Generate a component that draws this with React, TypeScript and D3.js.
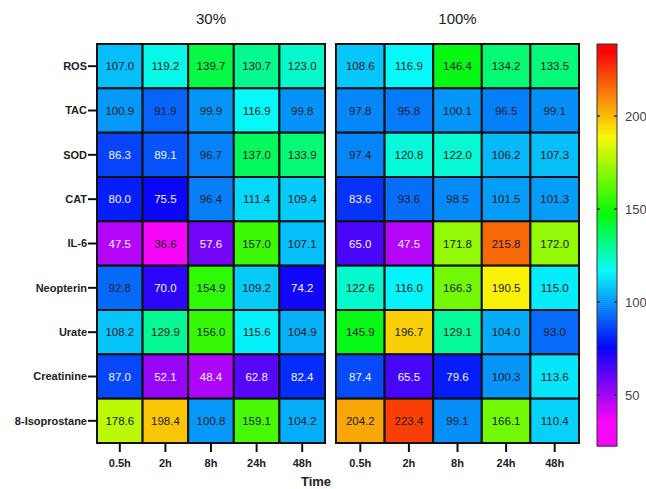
import React from "react";
import * as d3 from "d3";

const rows = ["ROS", "TAC", "SOD", "CAT", "IL-6", "Neopterin", "Urate", "Creatinine", "8-Isoprostane"];
const times = ["0.5h", "2h", "8h", "24h", "48h"];
const panelTitles = ["30%", "100%"];

const values30: number[][] = [
  [107.0, 119.2, 139.7, 130.7, 123.0],
  [100.9, 91.9, 99.9, 116.9, 99.8],
  [86.3, 89.1, 96.7, 137.0, 133.9],
  [80.0, 75.5, 96.4, 111.4, 109.4],
  [47.5, 36.6, 57.6, 157.0, 107.1],
  [92.8, 70.0, 154.9, 109.2, 74.2],
  [108.2, 129.9, 156.0, 115.6, 104.9],
  [87.0, 52.1, 48.4, 62.8, 82.4],
  [178.6, 198.4, 100.8, 159.1, 104.2],
];

const values100: number[][] = [
  [108.6, 116.9, 146.4, 134.2, 133.5],
  [97.8, 95.8, 100.1, 96.5, 99.1],
  [97.4, 120.8, 122.0, 106.2, 107.3],
  [83.6, 93.6, 98.5, 101.5, 101.3],
  [65.0, 47.5, 171.8, 215.8, 172.0],
  [122.6, 116.0, 166.3, 190.5, 115.0],
  [145.9, 196.7, 129.1, 104.0, 93.0],
  [87.4, 65.5, 79.6, 100.3, 113.6],
  [204.2, 223.4, 99.1, 166.1, 110.4],
];

const colorTicks = [50, 100, 150, 200];
const hueStops = [36, 76, 117, 148, 189, 234];
const hueValues = [300, 240, 180, 120, 60, 0];

const hueScale = d3.scaleLinear<number>().domain(hueStops).range(hueValues).clamp(true);
const color = (v: number) => d3.hsl(hueScale(v), 0.95, 0.5).toString();

const FONT = "'Liberation Sans', Arial, Helvetica, sans-serif";

export default function App() {
  const y = d3.scaleBand<string>().domain(rows).range([44, 443]);
  const panels = [
    { title: panelTitles[0], data: values30, x: d3.scaleBand<string>().domain(times).range([97, 325]) },
    { title: panelTitles[1], data: values100, x: d3.scaleBand<string>().domain(times).range([336, 579]) },
  ];
  const cb = d3.scaleLinear().domain([50, 200]).range([395, 116]);
  const cbTop = 44;
  const cbBot = 446;
  const cbX = 597;
  const cbW = 20;
  const vTop = cb.invert(cbTop);
  const vBot = cb.invert(cbBot);
  const nSteps = 200;
  const steps = d3.range(nSteps).map((i) => vBot + ((vTop - vBot) * (i + 0.5)) / nSteps);
  const stepH = (cbBot - cbTop) / nSteps;

  return (
    <svg width={646} height={489} style={{ position: "absolute", left: 0, top: 0, background: "#fff" }} fontFamily={FONT}>
      {panels.map((p, pi) => (
        <g key={pi}>
          <text x={(p.x.range()[0] + p.x.range()[1]) / 2} y={24} textAnchor="middle" fontSize={15} fill="#222">
            {p.title}
          </text>
          {rows.map((r, ri) =>
            times.map((t, ti) => {
              const v = p.data[ri][ti];
              const white = v > 40 && v < 90.5;
              return (
                <g key={r + t}>
                  <rect x={p.x(t)} y={y(r)} width={p.x.bandwidth()} height={y.bandwidth()} fill={color(v)} stroke="#111" strokeWidth={2} />
                  <text
                    x={(p.x(t) as number) + p.x.bandwidth() / 2}
                    y={(y(r) as number) + y.bandwidth() / 2}
                    dy="0.35em"
                    textAnchor="middle"
                    fontSize={11.5}
                    fill={white ? "#f4f4ff" : "#1a1a1a"}
                  >
                    {v.toFixed(1)}
                  </text>
                </g>
              );
            })
          )}
          {times.map((t) => {
            const cx = (p.x(t) as number) + p.x.bandwidth() / 2;
            return (
              <g key={"xt" + t}>
                <line x1={cx} x2={cx} y1={443} y2={452} stroke="#111" strokeWidth={2} />
                <text x={cx} y={467} textAnchor="middle" fontSize={11} fontWeight="bold" fill="#222">
                  {t}
                </text>
              </g>
            );
          })}
        </g>
      ))}
      {rows.map((r) => {
        const cy = (y(r) as number) + y.bandwidth() / 2;
        return (
          <g key={"yt" + r}>
            <line x1={88} x2={97} y1={cy} y2={cy} stroke="#111" strokeWidth={2} />
            <text x={87} y={cy} dy="0.35em" textAnchor="end" fontSize={11} fontWeight="bold" fill="#222">
              {r}
            </text>
          </g>
        );
      })}
      <text x={316} y={486} textAnchor="middle" fontSize={13} fontWeight="bold" fill="#222">
        Time
      </text>
      <g>
        {steps.map((v, i) => (
          <rect key={i} x={cbX} y={cbBot - (i + 1) * stepH} width={cbW} height={stepH + 0.6} fill={color(v)} />
        ))}
        <rect x={cbX} y={cbTop} width={cbW} height={cbBot - cbTop} fill="none" stroke="#333" strokeWidth={1} />
        {colorTicks.map((t) => (
          <g key={"ct" + t}>
            <line x1={cbX} x2={cbX + 3} y1={cb(t)} y2={cb(t)} stroke="#333" strokeWidth={1.5} />
            <line x1={cbX + cbW - 3} x2={cbX + cbW} y1={cb(t)} y2={cb(t)} stroke="#333" strokeWidth={1.5} />
            <text x={cbX + cbW + 8} y={cb(t)} dy="0.35em" fontSize={13} fill="#444">
              {t}
            </text>
          </g>
        ))}
      </g>
    </svg>
  );
}
